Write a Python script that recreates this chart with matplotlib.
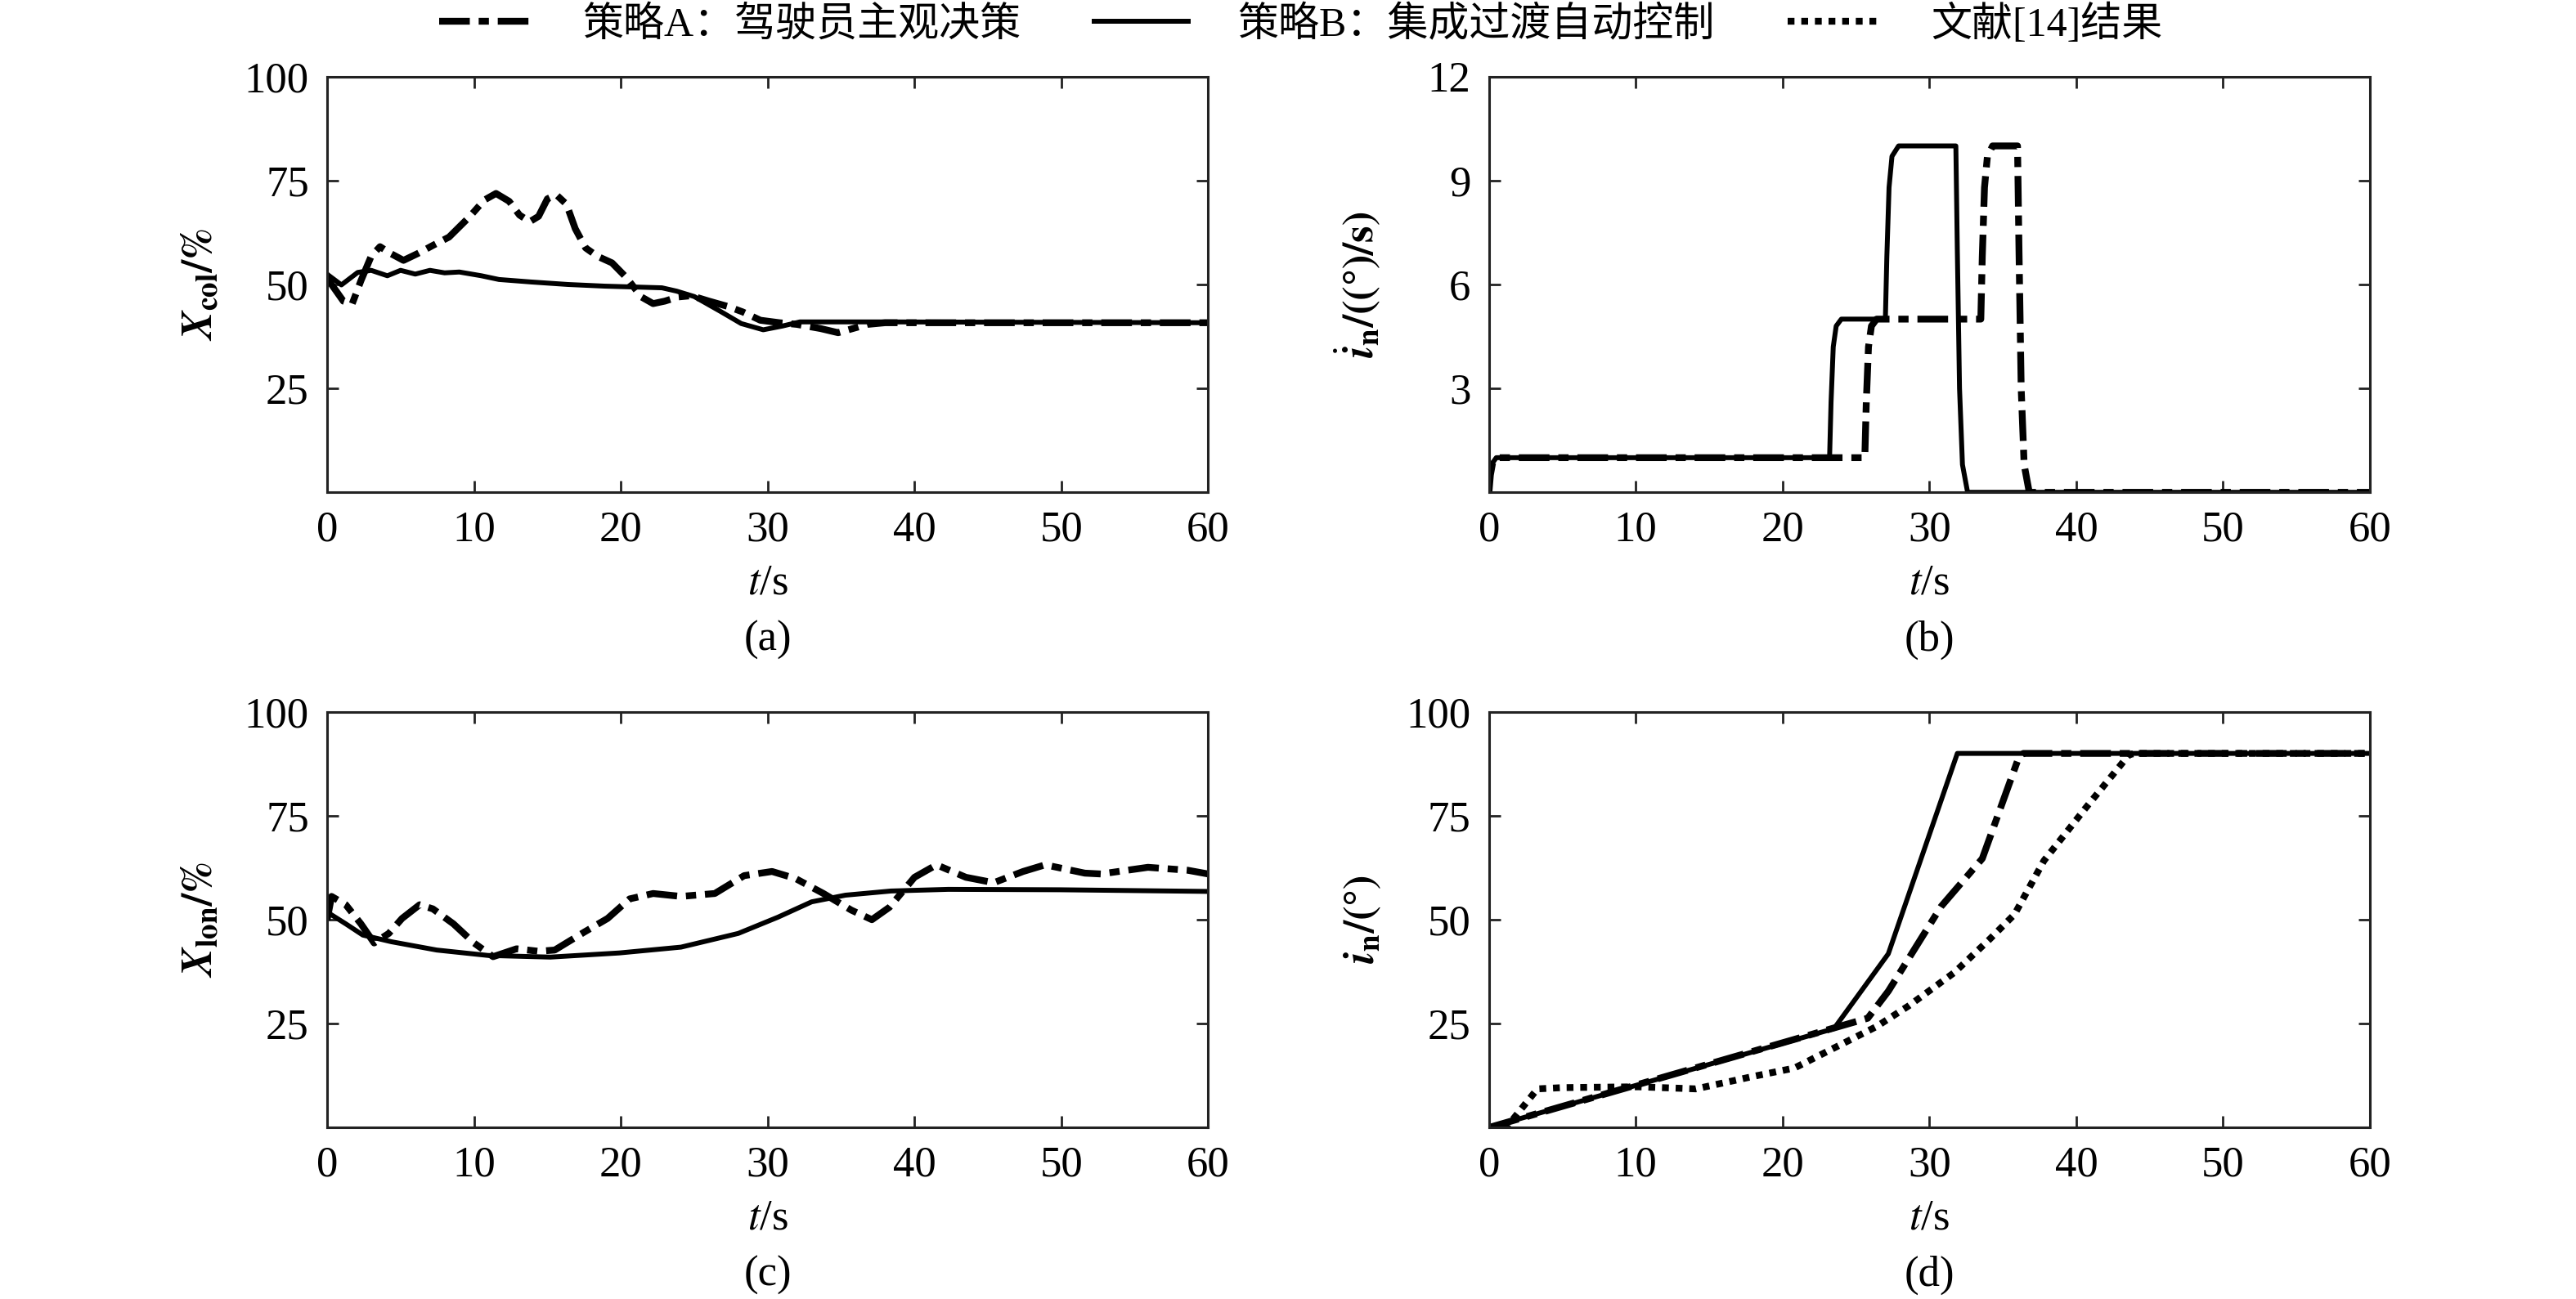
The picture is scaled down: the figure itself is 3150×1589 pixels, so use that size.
import numpy as np
import matplotlib
matplotlib.use('Agg')
import matplotlib.pyplot as plt
from matplotlib.lines import Line2D

# (a) collective stick X_col (%)
ta_A = [0, 0.3, 1.1, 1.7, 2.3, 3.0, 3.6, 4.3, 5.2, 6.2, 7.2, 8.3, 9.7, 10.7, 11.5, 12.4, 13.1,
        13.8, 14.4, 15.0, 15.6, 16.3, 16.9, 17.6, 18.4, 19.4, 20.4, 21.4, 22.2, 23.0, 23.9,
        24.8, 26.0, 27.3, 28.3, 29.5, 30.8, 32.0, 33.6, 34.8, 35.8, 36.8, 38.0, 60]
xa_A = [52.0, 50.0, 46.0, 45.3, 50.9, 56.8, 59.1, 57.5, 55.8, 57.5, 59.4, 61.4, 66.3, 70.3, 71.9,
        70.0, 66.7, 65.1, 66.4, 70.6, 71.6, 69.3, 63.4, 58.8, 56.8, 55.2, 51.6, 47.0, 45.4, 46.0,
        47.0, 47.3, 46.0, 44.7, 43.4, 41.4, 40.8, 40.4, 39.4, 38.4, 39.4, 40.4, 40.8, 40.8]
ta_B = [0, 0.1, 0.97, 2.08, 3.0, 4.1, 5.0, 6.0, 7.0, 8.0, 9.0, 10.5, 11.7, 13.9, 16.4, 18.9,
        22.8, 23.8, 25.0, 26.8, 28.2, 29.7, 31.0, 32.2, 37.9, 60]
xa_B = [52.5, 52.2, 49.9, 52.9, 53.4, 52.1, 53.4, 52.5, 53.4, 52.8, 53.0, 52.1, 51.2, 50.6,
        50.0, 49.6, 49.2, 48.4, 47.1, 43.5, 40.6, 39.1, 40.0, 41.0, 41.0, 40.8]

# (b) nacelle tilt rate (deg/s)
tb_A = [0, 0.1, 0.25, 0.5, 25.6, 25.7, 25.85, 26.05, 26.4, 33.5, 33.6, 33.75, 33.95, 34.3,
        36.0, 36.1, 36.25, 36.45, 36.8, 60]
rb_A = [0, 0.5, 0.85, 1.0, 1.0, 2.6, 4.2, 4.8, 5.0, 5.0, 6.8, 8.8, 9.7, 10.0,
        10.0, 7.0, 3.0, 0.8, 0.0, 0.0]
tb_B = [0, 0.1, 0.25, 0.5, 23.2, 23.3, 23.45, 23.65, 24.0, 27.0, 27.1, 27.25, 27.45, 27.9,
        31.8, 31.9, 32.05, 32.25, 32.6, 60]
rb_B = [0, 0.5, 0.85, 1.0, 1.0, 2.6, 4.2, 4.8, 5.0, 5.0, 6.8, 8.8, 9.7, 10.0,
        10.0, 7.0, 3.0, 0.8, 0.0, 0.0]

# (c) longitudinal stick X_lon (%)
tc_A = [0, 0.3, 1.27, 2.3, 3.2, 4.2, 5.1, 6.3, 7.2, 8.6, 10.0, 11.3, 12.9, 14.4, 15.5, 17.5,
        19.1, 20.6, 22.2, 24.1, 26.4, 28.4, 30.3, 31.9, 33.8, 35.7, 37.1, 38.3, 40.0, 41.5,
        43.5, 45.4, 47.4, 48.9, 51.6, 52.7, 55.9, 58.6, 60]
xc_A = [50.0, 55.6, 53.6, 49.0, 44.4, 46.7, 50.3, 53.6, 52.6, 49.0, 44.4, 41.1, 43.0, 42.4,
        42.7, 47.0, 50.3, 55.0, 56.3, 55.6, 56.3, 60.6, 61.6, 59.9, 56.3, 52.3, 50.0, 53.0,
        60.2, 63.2, 60.2, 58.9, 61.6, 63.2, 61.2, 61.0, 62.6, 61.9, 61.0]
tc_B = [0, 0.1, 1.27, 2.43, 4.37, 7.46, 10.95, 15.2, 19.9, 24.1, 28.0, 30.7, 33.0, 35.3, 38.4,
        42.3, 49.9, 60]
xc_B = [51.6, 51.6, 49.0, 46.3, 44.7, 42.7, 41.4, 41.0, 42.0, 43.4, 46.7, 50.6, 54.3, 55.9,
        56.9, 57.3, 57.2, 56.8]

# (d) nacelle angle (deg)
td_A = [0, 25.8, 27.2, 30.8, 33.6, 36.1, 36.4, 60]
nd_A = [0, 26.3, 32.8, 53.2, 64.7, 89.2, 90.0, 90.0]
td_B = [0, 23.5, 27.2, 31.9, 60]
nd_B = [0, 23.8, 41.8, 90.0, 90.0]
td_R = [0, 1.3, 3.3, 5.0, 10.2, 14.1, 18.0, 20.8, 23.6, 26.4, 28.6, 31.7, 34.1, 35.8, 37.8,
        40.6, 43.6, 44.0, 60]
nd_R = [0, 0.5, 9.3, 9.6, 9.8, 9.3, 12.3, 14.3, 19.3, 24.3, 29.3, 37.3, 45.3, 51.3, 64.2,
        76.7, 89.7, 90.0, 90.0]

legend_labels = ['策略A：驾驶员主观决策', '策略B：集成过渡自动控制', '文献[14]结果']
xticks = [0, 10, 20, 30, 40, 50, 60]

plt.rcParams['font.family'] = ['Liberation Serif', 'Noto Sans CJK SC']
plt.rcParams['mathtext.fontset'] = 'stix'
plt.rcParams['font.size'] = 38

DASHDOT = (0, (4.5, 1.3, 1.5, 1.3))
DOT = (0, (1.0, 1.0))
kw_A = dict(color='black', lw=6.0, linestyle=DASHDOT)
kw_B = dict(color='black', lw=4.3, linestyle='-')
kw_R = dict(color='black', lw=6.0, linestyle=DOT)

fig = plt.figure(figsize=(31.5, 15.89), dpi=100)
W, H = 0.342, 0.32
axa = fig.add_axes([0.127, 0.621, W, H])
axb = fig.add_axes([0.578, 0.621, W, H])
axc = fig.add_axes([0.127, 0.132, W, H])
axd = fig.add_axes([0.578, 0.132, W, H])

axa.plot(ta_B, xa_B, **kw_B)
axa.plot(ta_A, xa_A, **kw_A)
axb.plot(tb_B, rb_B, **kw_B)
axb.plot(tb_A, rb_A, **kw_A)
axc.plot(tc_B, xc_B, **kw_B)
axc.plot(tc_A, xc_A, **kw_A)
axd.plot(td_R, nd_R, **kw_R)
axd.plot(td_B, nd_B, **kw_B)
axd.plot(td_A, nd_A, **kw_A)

ylabels = [r'$\mathbfit{X}_{\mathbf{col}}\mathbf{/\%}$',
           r'$\dot{\mathbfit{i}}_{\mathbf{n}}\mathbf{/((°)/s)}$',
           r'$\mathbfit{X}_{\mathbf{lon}}\mathbf{/\%}$',
           r'$\mathbfit{i}_{\mathbf{n}}\mathbf{/(°)}$']
letters = ['(a)', '(b)', '(c)', '(d)']
for ax, yl, let in zip([axa, axb, axc, axd], ylabels, letters):
    ax.set_xlim(0, 60)
    ax.set_xticks(xticks)
    if ax is axb:
        ax.set_ylim(0, 12)
        ax.set_yticks([3, 6, 9, 12])
    else:
        ax.set_ylim(0, 100)
        ax.set_yticks([25, 50, 75, 100])
    ax.tick_params(direction='in', top=True, right=True, length=10, width=2,
                   labelsize=38, pad=16, colors='#222222', labelcolor='black')
    for s in ax.spines.values():
        s.set_linewidth(2.2)
        s.set_color('#222222')
    ax.set_xlabel(r'$t$/s', fontsize=38, labelpad=12)
    ax.set_ylabel(yl, fontsize=38)
    ax.yaxis.set_label_coords(-0.12, 0.5)
    ax.text(0.5, -0.355, let, transform=ax.transAxes, ha='center', va='center', fontsize=38)

handles = [Line2D([], [], **kw_A), Line2D([], [], **kw_B), Line2D([], [], **kw_R)]
fig.legend(handles, legend_labels, loc='center', bbox_to_anchor=(0.505, 0.981), ncol=3,
           frameon=False, fontsize=36, handlelength=2.3, handletextpad=1.2, columnspacing=1.8)

fig.savefig('out.png', dpi=100)
